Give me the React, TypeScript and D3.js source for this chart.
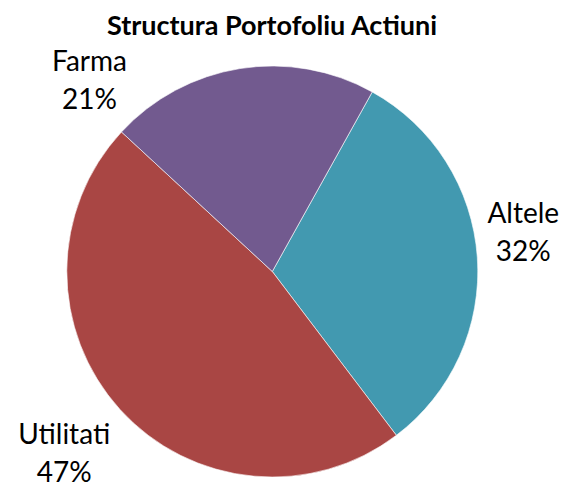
import React from "react";
import * as d3 from "d3";

const categories = ["Altele", "Utilitati", "Farma"];
const values = [31.6, 47.2, 21.2];
const colors = ["#4299B0", "#A94644", "#725A8F"];
// label placement (angle in degrees clockwise from top, distance from centre)
const labelAngles = [81.2, 228.7, 316.2];
const labelDists = [254, 277, 264];
const startDeg = 29.1;

const W = 565;
const H = 487;
const cx = 272.3;
const cy = 271.5;
const R = 205.5;

export default function App() {
  const pie = d3
    .pie<number>()
    .sort(null)
    .value((d) => d)
    .startAngle((startDeg * Math.PI) / 180)
    .endAngle((startDeg * Math.PI) / 180 + 2 * Math.PI);
  const arcs = pie(values);
  const arc = d3.arc<d3.PieArcDatum<number>>().innerRadius(0).outerRadius(R);
  const total = d3.sum(values);
  const font = "Lato, 'Liberation Sans', sans-serif";
  return (
    <svg
      width={W}
      height={H}
      style={{ position: "absolute", left: 0, top: 0, background: "#fff" }}
    >
      <text
        x={272}
        y={35}
        textAnchor="middle"
        fontFamily={font}
        fontWeight="bold"
        fontSize={27}
        fill="#000"
      >
        Structura Portofoliu Actiuni
      </text>
      <g transform={`translate(${cx},${cy})`}>
        {arcs.map((a, i) => (
          <path
            key={categories[i]}
            d={arc(a) || ""}
            fill={colors[i]}
            stroke="#ffffff"
            strokeWidth={0.6}
          />
        ))}
      </g>
      {arcs.map((a, i) => {
        const ang = (labelAngles[i] * Math.PI) / 180;
        const x = cx + labelDists[i] * Math.sin(ang);
        const y = cy - labelDists[i] * Math.cos(ang);
        const pct = Math.round((values[i] / total) * 100);
        return (
          <text
            key={"l" + i}
            textAnchor="middle"
            fontFamily={font}
            fontSize={28}
            fill="#000"
          >
            <tspan x={x} y={y - 10}>
              {categories[i]}
            </tspan>
            <tspan x={x} y={y + 28}>
              {pct + "%"}
            </tspan>
          </text>
        );
      })}
    </svg>
  );
}
